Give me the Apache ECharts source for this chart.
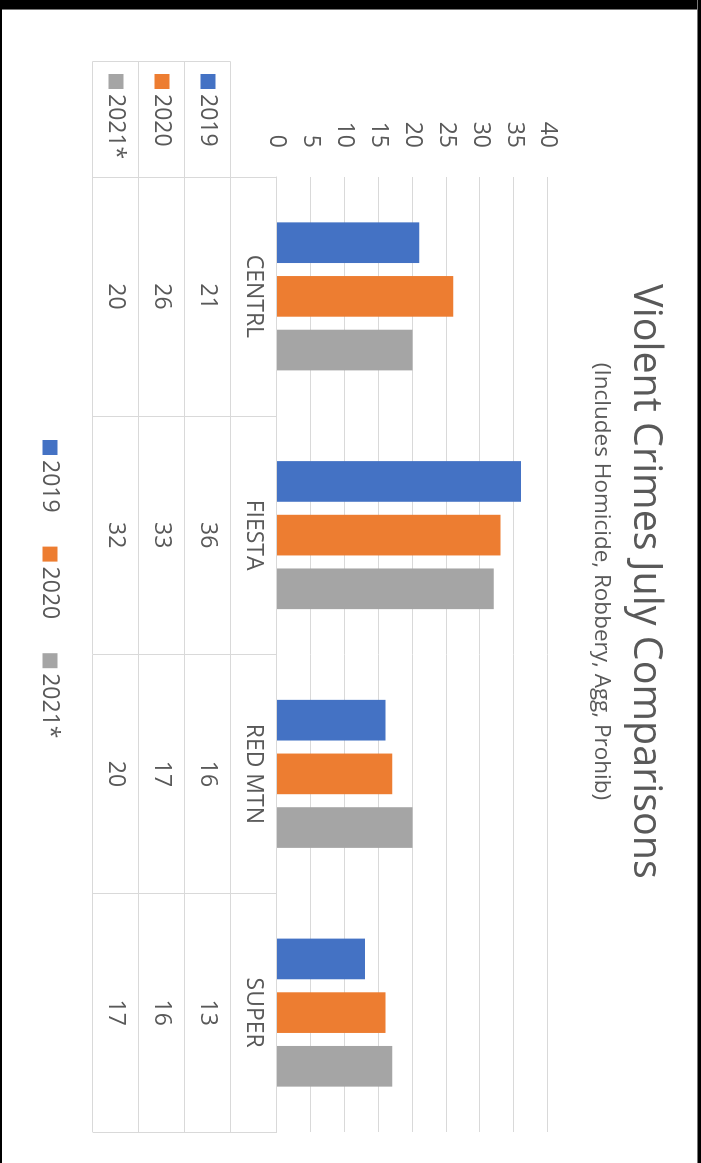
<!DOCTYPE html>
<html>
<head>
<meta charset="utf-8">
<script src="https://cdn.jsdelivr.net/npm/echarts@6/dist/echarts.min.js"></script>
<style>
  html, body { margin:0; padding:0; width:701px; height:1163px; overflow:hidden; background:#fff; }
  #chart { position:absolute; left:0; top:0; width:1163px; height:701px; transform-origin:0 0; transform:translate(701px,0) rotate(90deg); background:#fff; }
  .blk { position:absolute; background:#000; z-index:5; }
</style>
</head>
<body>
<div id="chart"></div>
<div class="blk" style="left:0;top:0;width:701px;height:9px;border-bottom:1px solid #777;"></div>
<div class="blk" style="left:697px;top:0;width:4px;height:1163px;border-left:1px solid #777;"></div>
<div class="blk" style="left:0;top:0;width:2px;height:1163px;"></div>
<script>
// ---- data ----
const categories = ['CENTRL', 'FIESTA', 'RED MTN', 'SUPER'];
const seriesNames = ['2019', '2020', '2021*'];
const values2019 = [21, 36, 16, 13];
const values2020 = [26, 33, 17, 16];
const values2021 = [20, 32, 20, 17];
const valueMin = 0, valueMax = 40, valueStep = 5;

// ---- style / layout ----
const colors = ['#4472C4', '#ED7D31', '#A5A5A5'];
const FONT = 'Open Sans';
const TXT = '#595959';
const LINE = '#d9d9d9';
const GRID = { left: 177, right: 31, top: 153, bottom: 277 };
const CH = 701;                       // chart height (unrotated)
const axisV = CH - GRID.bottom;       // 424
const ROW = 46;                       // table row height
const HEAD_L = 61;                    // row header column left

const rows = [values2019, values2020, values2021];

function rowAxis(i, vals) {
  return {
    type: 'category', data: categories, position: 'bottom', offset: ROW * i,
    axisLine: { show: true, lineStyle: { color: LINE, width: 1 } },
    axisTick: { show: false }, splitLine: { show: false },
    axisLabel: vals ? {
      interval: 0, margin: ROW / 2, verticalAlign: 'middle',
      fontFamily: FONT, fontSize: 23, color: TXT,
      formatter: (v, idx) => String(vals[idx])
    } : { show: false }
  };
}

const xAxes = [{
  type: 'category', data: categories, position: 'bottom',
  axisLine: { show: true, lineStyle: { color: LINE, width: 1 } },
  axisTick: { show: true, length: ROW * 4, interval: 0, alignWithLabel: false, lineStyle: { color: LINE, width: 1 } },
  axisLabel: { interval: 0, margin: ROW / 2, verticalAlign: 'middle', fontFamily: FONT, fontSize: 23, color: TXT },
  splitLine: { show: false }
}];
rows.forEach((vals, i) => xAxes.push(rowAxis(i + 1, vals)));
xAxes.push(rowAxis(4, null));

const rowLegends = seriesNames.map((n, i) => ({
  data: [n], orient: 'horizontal', left: HEAD_L + 13, top: axisV + ROW * (i + 1) + ROW / 2 - 12,
  padding: 0, icon: 'rect', itemWidth: 15, itemHeight: 15, selectedMode: false,
  textStyle: { fontFamily: FONT, fontSize: 23, color: TXT, lineHeight: 24 }
}));

const headTop = axisV + ROW, headBottom = axisV + ROW * 4;

const option = {
  animation: false,
  color: colors,
  title: [
    { text: 'Violent Crimes July Comparisons', left: 'center', top: 34, padding: 0,
      textStyle: { fontFamily: FONT, fontSize: 39.5, fontWeight: 'normal', color: TXT, lineHeight: 44 } },
    { text: '(Includes Homicide, Robbery, Agg, Prohib)', left: 'center', top: 87, padding: 0,
      textStyle: { fontFamily: FONT, fontSize: 22.5, fontWeight: 'normal', color: TXT, lineHeight: 26 } }
  ],
  legend: [{
    data: seriesNames, orient: 'horizontal', left: 440, top: 639, padding: 0,
    icon: 'rect', itemWidth: 15, itemHeight: 15, itemGap: 34, selectedMode: false,
    textStyle: { fontFamily: FONT, fontSize: 23, color: TXT, lineHeight: 24 }
  }].concat(rowLegends),
  grid: { left: GRID.left, right: GRID.right, top: GRID.top, bottom: GRID.bottom, outerBoundsMode: 'none', containLabel: false },
  xAxis: xAxes,
  yAxis: {
    type: 'value', min: valueMin, max: valueMax, interval: valueStep,
    axisLine: { show: false }, axisTick: { show: false },
    axisLabel: { margin: 29, fontFamily: FONT, fontSize: 23, color: TXT },
    splitLine: { show: true, lineStyle: { color: LINE, width: 1 } }
  },
  series: seriesNames.map((n, i) => ({
    name: n, type: 'bar', data: rows[i], xAxisIndex: 0,
    barCategoryGap: '38%', barGap: '32%',
    itemStyle: { color: colors[i] }
  })),
  graphic: [
    { type: 'rect', silent: true, z: 10,
      shape: { x: HEAD_L + 0.5, y: headTop + 0.5, width: GRID.left - HEAD_L, height: headBottom - headTop },
      style: { fill: null, stroke: LINE, lineWidth: 1 } },
    { type: 'line', silent: true, z: 10,
      shape: { x1: HEAD_L, y1: headTop + ROW + 0.5, x2: GRID.left, y2: headTop + ROW + 0.5 },
      style: { stroke: LINE, lineWidth: 1 } },
    { type: 'line', silent: true, z: 10,
      shape: { x1: HEAD_L, y1: headTop + 2 * ROW + 0.5, x2: GRID.left, y2: headTop + 2 * ROW + 0.5 },
      style: { stroke: LINE, lineWidth: 1 } }
  ]
};

const chart = echarts.init(document.getElementById('chart'), null, { renderer: 'canvas' });
chart.setOption(option);
</script>
</body>
</html>
